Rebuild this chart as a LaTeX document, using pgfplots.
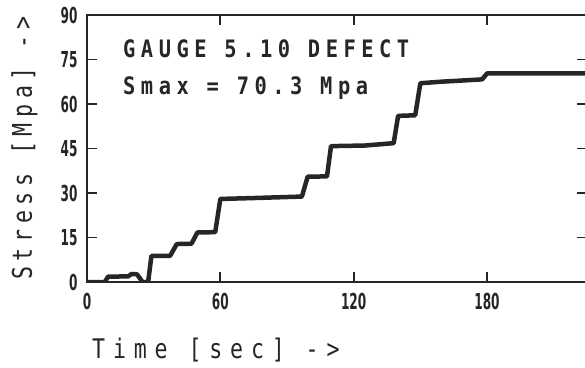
\documentclass[border=0pt]{standalone}
\usepackage{fontspec}
\usepackage{pgfplots}
\pgfplotsset{compat=1.18}
\newfontfamily\plotfont[LetterSpace=23,FakeStretch=0.85]{DejaVu Sans Mono Bold}
\newfontfamily\xlabfont[LetterSpace=29,FakeStretch=0.8]{DejaVu Sans Mono}
\newfontfamily\ylabfont[LetterSpace=21,FakeStretch=0.8]{DejaVu Sans Mono}
\newfontfamily\tickfont[FakeStretch=0.55]{DejaVu Sans}
\definecolor{ink}{HTML}{262626}
\begin{document}
\begin{tikzpicture}
\begin{axis}[
  at={(0pt,0pt)}, anchor=south west,
  scale only axis, width=500pt, height=267pt,
  xmin=0, xmax=225, ymin=0, ymax=90,
  xtick={0,60,120,180}, ytick={0,15,30,45,60,75,90},
  axis line style={line width=2pt, color=ink},
  major tick length=10pt,
  tick style={line width=1.8pt, color=ink},
  /pgf/number format/assume math mode=true,
  ticklabel style={font=\tickfont\bfseries\fontsize{22}{24}\selectfont, text=ink},
  xticklabel style={anchor=north, yshift=-8pt},
  yticklabel style={anchor=east, xshift=-6pt},
]
\addplot[ink, line width=4.5pt, line join=round, line cap=round] coordinates {
(0,0) (8,0) (9.5,1.8) (18.5,1.9) (20,2.7) (22.5,2.6) (25,0) (27.5,0)
(29,8.8) (37.4,8.8) (40.4,12.8) (47,12.9) (49.7,16.7) (57.7,16.8)
(60,28) (75,28.3) (96.7,28.8) (99.3,35.5) (108,35.6) (109.8,45.8)
(125,46) (138,46.8) (140,56) (147.7,56.2) (150,67) (159,67.5)
(177.8,68.3) (180,70.3) (225,70.3)};
\end{axis}
\node[anchor=base west, inner sep=0pt, text=ink] at (36pt,224pt)
  {\plotfont\fontsize{24}{26}\selectfont GAUGE 5.10 DEFECT};
\node[anchor=base west, inner sep=0pt, text=ink] at (36pt,187pt)
  {\plotfont\fontsize{24}{26}\selectfont Smax = 70.3 Mpa};
\node[anchor=base west, inner sep=0pt, text=ink] at (5pt,-76pt)
  {\xlabfont\fontsize{27}{28}\selectfont Time [sec] ->};
\node[anchor=base west, inner sep=0pt, rotate=90, text=ink] at (-55pt,2pt)
  {\ylabfont\fontsize{27}{28}\selectfont Stress [Mpa] ->};
\pgfresetboundingbox
\useasboundingbox (-87pt,-85pt) rectangle (498pt,282pt);
\end{tikzpicture}
\end{document}
